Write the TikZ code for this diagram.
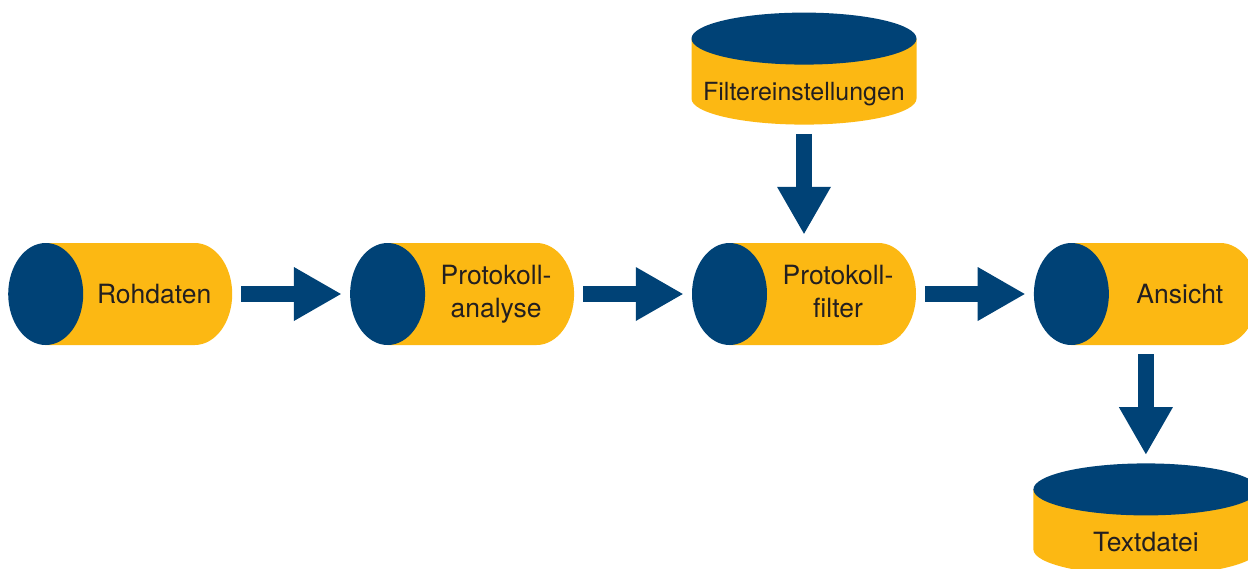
\documentclass[tikz,border=0pt]{standalone}
\usepackage{fontspec}
\setmainfont{TeX Gyre Heros}
\usetikzlibrary{arrows.meta,positioning}
\definecolor{dbblue}{RGB}{0,66,118}
\definecolor{dbyellow}{RGB}{252,184,19}
\definecolor{dbtext}{RGB}{35,31,32}

\begin{document}
\begin{tikzpicture}[
    x=1pt, y=-1pt,
    node distance=117.5pt,
    cyl/.style={rectangle, inner sep=0pt, text=dbtext, font=\fontsize{26.5}{33}\selectfont},
    hcyl/.style={cyl, minimum height=102pt, text width=224pt, align=center,
        execute at begin node={\leftskip=68pt plus 1fil\rightskip=0pt plus 1fil\parfillskip=0pt},
        path picture={
            \fill[dbyellow] ([xshift=37.5pt]path picture bounding box.north west)
                -- ([xshift=-37.5pt]path picture bounding box.north east)
                arc[start angle=90, end angle=-90, x radius=37.5pt, y radius=51pt]
                -- ([xshift=37.5pt]path picture bounding box.south west) -- cycle;
            \fill[dbblue] ([xshift=37.5pt]path picture bounding box.west)
                ellipse[x radius=37.5pt, y radius=51pt];
        }},
    twoline/.style={text depth=39pt},
    vcyl/.style={cyl, minimum width=225pt, minimum height=112pt, text height=88pt, text depth=24pt,
        path picture={
            \fill[dbyellow] ([yshift=-26pt]path picture bounding box.north west)
                -- ([yshift=26pt]path picture bounding box.south west)
                arc[start angle=180, end angle=360, x radius=112.5pt, y radius=26pt]
                -- ([yshift=-26pt]path picture bounding box.north east) -- cycle;
            \fill[dbblue] ([yshift=-26pt]path picture bounding box.north)
                ellipse[x radius=112.5pt, y radius=26pt];
        }},
    arrow/.style={-{Triangle[width=54pt,length=47pt,line width=0pt]}, line width=16pt, draw=dbblue, shorten <=9pt, shorten >=9pt}
]
    \useasboundingbox (0,0) rectangle (1248,568);

    % Chain
    \node[hcyl, anchor=west] (rohdaten) at (8,294) {Rohdaten};
    \node[hcyl, twoline, right=of rohdaten] (analyse) {Protokoll-\\analyse};
    \node[hcyl, twoline, right=of analyse] (filter) {Protokoll-\\filter};
    \node[hcyl, right=of filter] (ansicht) {Ansicht};

    % Stores
    \node[vcyl, font=\fontsize{25}{30}\selectfont, above=118pt of filter] (einst) {Filtereinstellungen};
    \node[vcyl, below=118pt of ansicht] (textdatei) {Textdatei};

    % Arrows
    \draw[arrow] (rohdaten) -- (analyse);
    \draw[arrow] (analyse) -- (filter);
    \draw[arrow] (filter) -- (ansicht);
    \draw[arrow] (einst) -- (filter);
    \draw[arrow] (ansicht) -- (textdatei);

\end{tikzpicture}
\end{document}
